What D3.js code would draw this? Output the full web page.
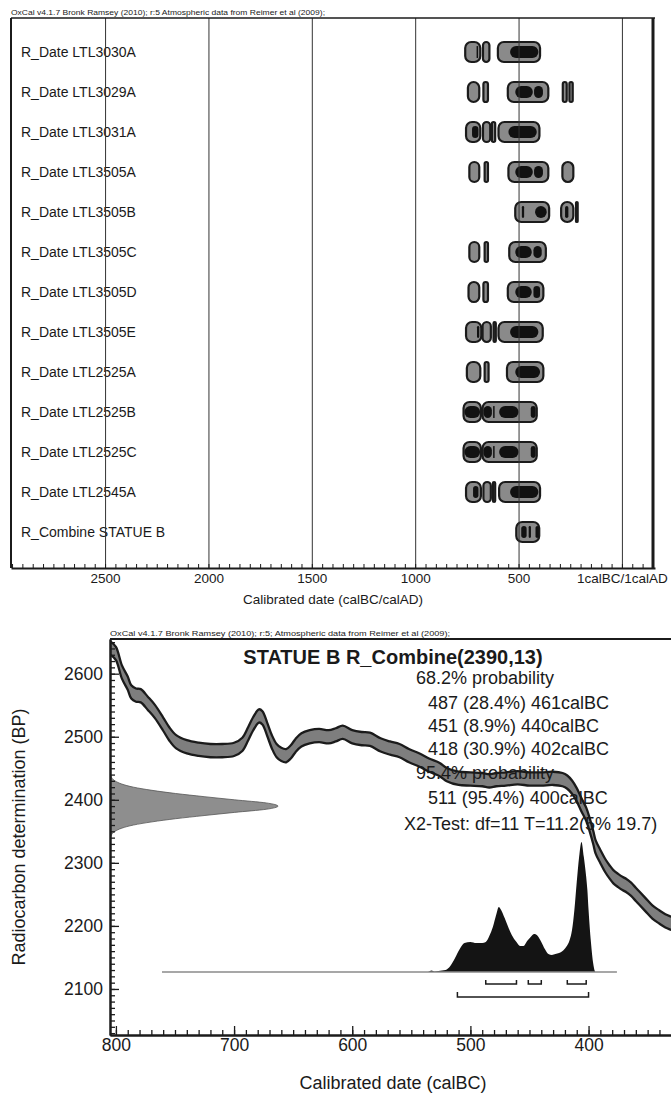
<!DOCTYPE html>
<html><head><meta charset="utf-8">
<script src="https://cdn.jsdelivr.net/npm/d3@7"></script>
<style>
body{margin:0;background:#fff;}
svg{display:block;}
text{font-family:"Liberation Sans",Arial,sans-serif;fill:#1a1a1a;}
</style>
</head><body>
<svg id="c" width="671" height="1095"></svg>
<script>
// ---------------- DATA ----------------
const creditTop = "OxCal v4.1.7 Bronk Ramsey (2010); r:5 Atmospheric data from Reimer et al (2009);";
const creditBottom = "OxCal v4.1.7 Bronk Ramsey (2010); r:5; Atmospheric data from Reimer et al (2009);";

const rowLabels = ["R_Date LTL3030A","R_Date LTL3029A","R_Date LTL3031A","R_Date LTL3505A","R_Date LTL3505B",
  "R_Date LTL3505C","R_Date LTL3505D","R_Date LTL3505E","R_Date LTL2525A","R_Date LTL2525B",
  "R_Date LTL2525C","R_Date LTL2545A","R_Combine STATUE B"];

// 95.4% ranges (calBC from, to) per row
const range95 = [
  [[758,685],[672,641],[600,396]],
  [[745,690],[670,648],[552,356],[286,267],[254,238]],
  [[754,685],[672,637],[629,613],[597,399]],
  [[738,690],[664,648],[549,356],[288,235]],
  [[516,352],[294,235],[222,214]],
  [[738,690],[664,648],[545,368]],
  [[742,690],[670,648],[552,380]],
  [[754,680],[674,634],[621,610],[597,383]],
  [[750,685],[664,645],[556,380]],
  [[766,682],[674,412]],
  [[766,682],[674,412]],
  [[754,682],[670,634],[624,613],[594,396]],
  [[511,400]]
];
// 68.2% ranges per row
const range68 = [
  [[703,697],[541,404]],
  [[516,431],[425,382]],
  [[725,694],[549,412]],
  [[516,431],[425,382]],
  [[484,473],[420,364],[275,259]],
  [[516,436],[428,388]],
  [[516,436],[428,396]],
  [[701,690],[541,404]],
  [[516,396]],
  [[762,686],[669,629],[623,618],[594,500],[441,417]],
  [[762,686],[669,629],[623,618],[594,500],[441,417]],
  [[720,694],[541,404]],
  [[487,461],[451,440],[418,402]]
];

const topTickValues = [2500,2000,1500,1000,500,0];
const topTickLabels = ["2500","2000","1500","1000","500","1calBC/1calAD"];
const topAxisTitle = "Calibrated date (calBC/calAD)";

// Calibration curve (calBC, BP)
const curveYears = [805,800,795,790,787,783,779,773,767,760,755,749,740,730,720,710,700,693,688,684,679,676,672,668,664,660,656,652,648,643,636,628,620,614,608,600,592,585,576,568,560,552,543,535,526,520,510,500,490,484,478,470,460,450,440,430,422,418,414,410,406,402,399,396,394,390,386,382,379,375,371,368,364,360,357,352,346,340,335,330,326];
const curveBP    = [2641,2632,2603,2585,2571,2566,2565,2553,2540,2520,2505,2492,2484,2480,2478,2478,2480,2488,2505,2520,2533,2530,2512,2492,2478,2472,2470,2476,2486,2495,2500,2502,2500,2503,2507,2500,2497,2496,2487,2482,2478,2470,2463,2455,2448,2440,2434,2433,2432,2430,2432,2433,2435,2433,2433,2434,2432,2428,2420,2408,2392,2377,2360,2340,2325,2310,2296,2285,2278,2272,2267,2264,2258,2250,2244,2234,2222,2214,2208,2204,2201];
const curveError = 10.5;

// Measurement (BP, relative density)
const measBP      = [2335,2345,2350,2355,2360,2365,2370,2375,2380,2385,2390,2395,2400,2405,2410,2415,2420,2425,2430,2435,2445];
const measDensity = [0,0.01,0.03,0.07,0.14,0.25,0.39,0.56,0.74,0.93,1.0,0.93,0.74,0.56,0.39,0.25,0.14,0.07,0.03,0.01,0];

// Posterior (calBC, relative probability)
const probYears = [540,536,533,530,527,521,517,513,509,505,500,495,490,487,484,481,478,476,474,471,468,465,461,458,455,452,449,446,443,440,437,434,431,428,425,422,419,416,414,412,410,408,406,404,402,401,400,398,396,394,390];
const probValues = [0,0,0.012,0.004,0.008,0.015,0.046,0.108,0.177,0.223,0.231,0.223,0.223,0.231,0.277,0.346,0.446,0.5,0.477,0.415,0.346,0.285,0.231,0.2,0.2,0.238,0.269,0.292,0.277,0.231,0.177,0.138,0.131,0.138,0.146,0.162,0.192,0.246,0.323,0.477,0.692,0.885,1.0,0.885,0.731,0.631,0.477,0.231,0.062,0,0];
const plotRange = [761,376];
const hpd68 = [[487,461],[451,440],[418,402]];
const hpd95 = [[511,400]];

const chartTitle = "STATUE B R_Combine(2390,13)";
const summaryLines = [
  {t:"68.2% probability", indent:0},
  {t:"487 (28.4%) 461calBC", indent:1},
  {t:"451 (8.9%) 440calBC", indent:1},
  {t:"418 (30.9%) 402calBC", indent:1},
  {t:"95.4% probability", indent:0},
  {t:"511 (95.4%) 400calBC", indent:1},
  {t:"X2-Test: df=11 T=11.2(5% 19.7)", indent:-1}
];
const xTickValues = [800,700,600,500,400];
const yTickValues = [2100,2200,2300,2400,2500,2600];
const xTitle = "Calibrated date (calBC)";
const yTitle = "Radiocarbon determination (BP)";

// ---------------- DRAW ----------------
const svg = d3.select("#c");
const INK = "#1b1b1b", GREY = "#8a8a8a";
const FONT = '"Liberation Sans",Arial,sans-serif';

// ===== Top panel =====
const T = {l:11, r:655, t:18, b:568};
const xT = d3.scaleLinear().domain([2955,-160]).range([T.l, T.r]);
const yT = d3.scalePoint().domain(rowLabels).range([52, 532]);
const gTop = svg.append("g");

gTop.append("text").attr("x",T.l).attr("y",15).attr("font-size",7.5)
  .attr("textLength",314).attr("lengthAdjust","spacingAndGlyphs").text(creditTop);

gTop.selectAll("text.row").data(rowLabels).join("text").attr("class","row")
  .attr("x",21).attr("y",d=>yT(d)+5).attr("font-size",14).text(d=>d);

const rows = gTop.selectAll("g.r").data(rowLabels.map((l,i)=>({l, r95:range95[i], r68:range68[i]})))
  .join("g").attr("class","r").attr("transform",d=>`translate(0,${yT(d.l)})`);
rows.selectAll("rect.o").data(d=>d.r95).join("rect").attr("class","o")
  .attr("x",d=>xT(d[0])).attr("width",d=>xT(d[1])-xT(d[0]))
  .attr("y",-10).attr("height",20).attr("rx",d=>Math.min(6,(xT(d[1])-xT(d[0]))/2))
  .attr("fill",GREY).attr("stroke",INK).attr("stroke-width",2.2);
rows.selectAll("rect.i").data(d=>d.r68).join("rect").attr("class","i")
  .attr("x",d=>xT(d[0])).attr("width",d=>Math.max(1.5,xT(d[1])-xT(d[0])))
  .attr("y",-6).attr("height",12).attr("rx",d=>Math.min(6,(xT(d[1])-xT(d[0]))/2))
  .attr("fill","#111");

// grid + axis
const axT = gTop.append("g").attr("transform",`translate(0,${T.b})`)
  .call(d3.axisBottom(xT).tickValues(topTickValues).tickSize(-(T.b-T.t)).tickSizeOuter(0)
    .tickPadding(5).tickFormat((d,i)=>topTickLabels[i]));
axT.selectAll(".tick line").attr("stroke","#333").attr("stroke-width",1);
axT.selectAll(".tick text").attr("font-size",13.5).attr("font-family",FONT).attr("fill","#1a1a1a");
axT.select(".domain").attr("stroke",INK).attr("stroke-width",2);
const axTm = gTop.append("g").attr("transform",`translate(0,${T.b})`)
  .call(d3.axisBottom(xT).tickValues(d3.range(2950,-160,-50)).tickSize(-4).tickSizeOuter(0).tickFormat(""));
axTm.select(".domain").remove();
axTm.selectAll(".tick line").attr("stroke",INK);

gTop.append("line").attr("x1",T.l).attr("x2",T.l).attr("y1",T.t).attr("y2",T.b).attr("stroke",INK).attr("stroke-width",2);
gTop.append("line").attr("x1",T.l).attr("x2",T.r).attr("y1",T.t).attr("y2",T.t).attr("stroke",INK).attr("stroke-width",1.5);
gTop.append("line").attr("x1",653).attr("x2",653).attr("y1",T.t).attr("y2",T.b).attr("stroke",INK).attr("stroke-width",3);

gTop.append("text").attr("x",(T.l+T.r)/2).attr("y",604).attr("text-anchor","middle")
  .attr("font-size",13.5).text(topAxisTitle);

// ===== Bottom panel =====
const B = {l:110, r:676, t:639, b:1035};
const xB = d3.scaleLinear().domain([805,326]).range([B.l,B.r]);
const yB = d3.scaleLinear().domain([2027,2655]).range([B.b,B.t]);
const gB = svg.append("g");
svg.append("defs").append("clipPath").attr("id","clipB").append("rect")
  .attr("x",B.l).attr("y",B.t).attr("width",B.r-B.l).attr("height",B.b-B.t);
const plot = gB.append("g").attr("clip-path","url(#clipB)");

// measurement gaussian
const gx = d3.scaleLinear().domain([0,1]).range([B.l, B.l+168]);
plot.append("path").datum(measBP.map((b,i)=>({b, d:measDensity[i]})))
  .attr("d", d3.area().y(d=>yB(d.b)).x0(B.l).x1(d=>gx(d.d)).curve(d3.curveMonotoneY))
  .attr("fill","#8e8e8e").attr("stroke","#555").attr("stroke-width",0.8);

// calibration curve band
const curve = curveYears.map((y,i)=>({y, bp:curveBP[i]}));
plot.append("path").datum(curve)
  .attr("d", d3.area().x(d=>xB(d.y)).y0(d=>yB(d.bp-curveError)).y1(d=>yB(d.bp+curveError)).curve(d3.curveCatmullRom))
  .attr("fill","#7e7e7e").attr("stroke",INK).attr("stroke-width",2.3);

// posterior
const baseY = yB(2127);
const hp = d3.scaleLinear().domain([0,1]).range([baseY, baseY-130]);
plot.append("path").datum(probYears.map((y,i)=>({y, p:probValues[i]})))
  .attr("d", d3.area().x(d=>xB(d.y)).y0(baseY).y1(d=>hp(d.p)).curve(d3.curveMonotoneX))
  .attr("fill","#141414");
plot.append("line").attr("x1",xB(plotRange[0])).attr("x2",xB(plotRange[1]))
  .attr("y1",baseY).attr("y2",baseY).attr("stroke","#8a8a8a").attr("stroke-width",1.5);

// hpd brackets
const br = (y,h)=>d=>`M${xB(d[0])},${y-h}V${y}H${xB(d[1])}V${y-h}`;
plot.selectAll("path.h68").data(hpd68).join("path").attr("class","h68")
  .attr("d",br(984,4)).attr("fill","none").attr("stroke",INK).attr("stroke-width",1.5);
plot.selectAll("path.h95").data(hpd95).join("path").attr("class","h95")
  .attr("d",br(997,5)).attr("fill","none").attr("stroke",INK).attr("stroke-width",1.5);

// axes
const fmt = d3.format("d");
const axX = gB.append("g").attr("transform",`translate(0,${B.b})`)
  .call(d3.axisBottom(xB).tickValues(xTickValues).tickSize(-9).tickSizeOuter(0).tickPadding(4).tickFormat(fmt));
const axXm = gB.append("g").attr("transform",`translate(0,${B.b})`)
  .call(d3.axisBottom(xB).tickValues(d3.range(800,325,-10)).tickSize(-5).tickSizeOuter(0).tickFormat(""));
const axY = gB.append("g").attr("transform",`translate(${B.l},0)`)
  .call(d3.axisLeft(yB).tickValues(yTickValues).tickSize(-9).tickSizeOuter(0).tickPadding(7).tickFormat(fmt));
const axYm = gB.append("g").attr("transform",`translate(${B.l},0)`)
  .call(d3.axisLeft(yB).tickValues(d3.range(2030,2660,10)).tickSize(-5).tickSizeOuter(0).tickFormat(""));
[axX,axXm,axY,axYm].forEach(a=>{
  a.select(".domain").attr("stroke",INK).attr("stroke-width",2);
  a.selectAll(".tick line").attr("stroke",INK).attr("stroke-width",1.3);
  a.selectAll(".tick text").attr("font-size",17.5).attr("font-family",FONT).attr("fill","#1a1a1a");
});
gB.append("line").attr("x1",B.l).attr("x2",671).attr("y1",B.t).attr("y2",B.t).attr("stroke",INK).attr("stroke-width",2);

gB.append("text").attr("x",B.l).attr("y",636).attr("font-size",8)
  .attr("textLength",340).attr("lengthAdjust","spacingAndGlyphs").text(creditBottom);

gB.append("text").attr("x",393).attr("y",664).attr("text-anchor","middle")
  .attr("font-size",20).attr("font-weight","bold").text(chartTitle);
const lineX = {"0":416,"1":428,"-1":404};
const lineBase = [683.5,708.5,731.5,754.5,778.5,803.5,829.5];
gB.selectAll("text.s").data(summaryLines).join("text").attr("class","s")
  .attr("x",d=>lineX[d.indent]).attr("y",(d,i)=>lineBase[i]).attr("font-size",18).text(d=>d.t);

gB.append("text").attr("x",393).attr("y",1089).attr("text-anchor","middle").attr("font-size",18).text(xTitle);
gB.append("text").attr("transform","translate(25,837) rotate(-90)").attr("text-anchor","middle").attr("font-size",18).text(yTitle);
</script>
</body></html>
